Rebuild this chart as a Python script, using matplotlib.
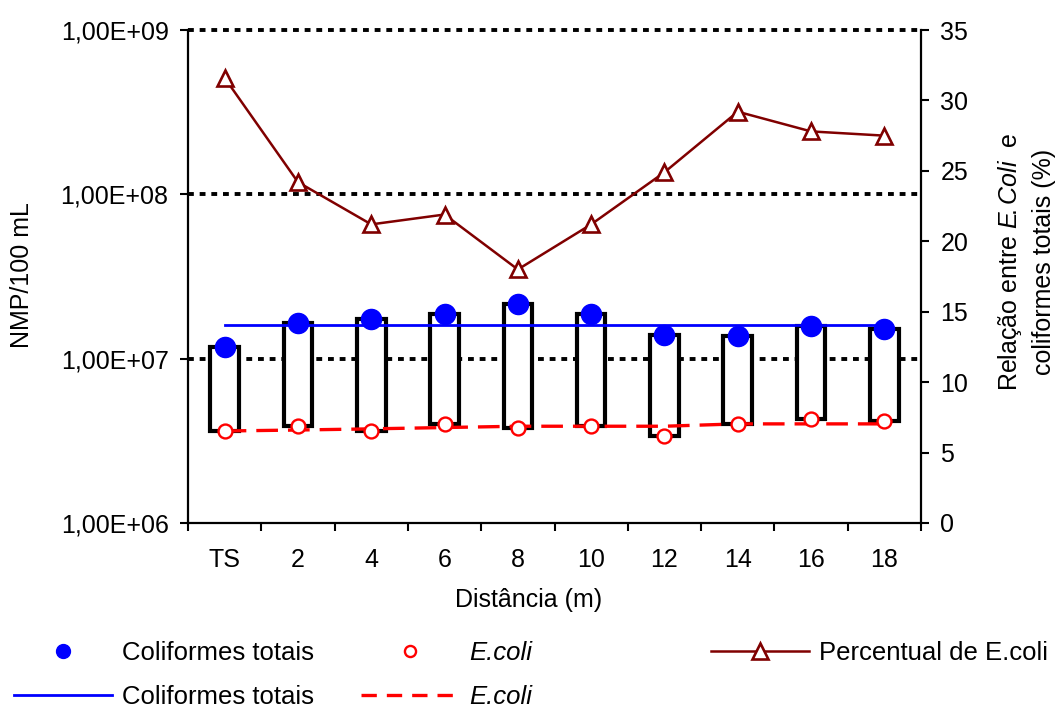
import numpy as np
import matplotlib
matplotlib.use("Agg")
import matplotlib.pyplot as plt
from matplotlib.lines import Line2D
from matplotlib.ticker import NullLocator, FixedLocator

plt.rcParams["font.family"] = ["Liberation Sans", "DejaVu Sans"]
plt.rcParams["mathtext.fontset"] = "custom"
plt.rcParams["mathtext.rm"] = "Liberation Sans"
plt.rcParams["mathtext.it"] = "Liberation Sans:italic"
plt.rcParams["font.size"] = 18

# distance from the septic tank (TS) in metres
distances = ["TS", "2", "4", "6", "8", "10", "12", "14", "16", "18"]

# NMP/100 mL
coliformes_totais = [1.17e7, 1.65e7, 1.74e7, 1.88e7, 2.15e7, 1.88e7, 1.40e7, 1.38e7, 1.57e7, 1.52e7]
e_coli = [3.65e6, 3.92e6, 3.65e6, 4.03e6, 3.79e6, 3.88e6, 3.40e6, 4.03e6, 4.32e6, 4.20e6]

# reference lines
media_totais = 1.61e7
tendencia_e_coli = [3.63e6, 3.68e6, 3.74e6, 3.81e6, 3.88e6, 3.88e6, 3.88e6, 4.01e6, 4.01e6, 4.01e6]

# E.coli / total coliforms (%)
percentual = [31.6, 24.2, 21.2, 21.9, 18.0, 21.2, 24.9, 29.2, 27.8, 27.5]

W, H = 1064, 708
fig = plt.figure(figsize=(W / 100, H / 100), dpi=100)
ax = fig.add_axes([188 / W, 1 - 523 / H, 733 / W, 493 / H])

x = np.arange(len(distances))
tot = np.array(coliformes_totais)
eco = np.array(e_coli)

ax.set_yscale("log")
ax.set_ylim(1e6, 1e9)
ax.set_xlim(-0.5, len(distances) - 0.5)

for lvl in [1e7, 1e8, 1e9]:
    ax.axhline(lvl, color="black", lw=2.8, ls=(0, (1.5, 1.5)), zorder=1, clip_on=False)

# high-low boxes between E.coli and total coliforms
ax.bar(x, tot - eco, bottom=eco, width=0.39, color="white", edgecolor="black",
       linewidth=3.0, zorder=2)

ax.plot([x[0], x[-1]], [media_totais, media_totais], color="#0000ff", lw=2.0, zorder=3)
ax.plot(x, tendencia_e_coli, color="#ff0000", lw=2.4, ls=(0, (6.5, 3)), zorder=3)
ax.plot(x, tot, "o", color="#0000ff", ms=14.5, zorder=4)
ax.plot(x, eco, "o", mfc="white", mec="#ff0000", mew=1.7, ms=10, zorder=4)

ax.set_yticks([1e6, 1e7, 1e8, 1e9])
ax.set_yticklabels(["1,00E+06", "1,00E+07", "1,00E+08", "1,00E+09"])
ax.yaxis.set_minor_locator(NullLocator())
ax.tick_params(axis="y", direction="out", length=6, width=1.5, pad=8)

ax.set_xticks(x)
ax.set_xticklabels(distances)
ax.xaxis.set_minor_locator(FixedLocator(np.arange(-0.5, len(distances), 1.0)))
ax.tick_params(axis="x", which="major", length=0, pad=18)
ax.tick_params(axis="x", which="minor", direction="out", length=6, width=1.5)

for side in ["top", "right"]:
    ax.spines[side].set_visible(False)
for side in ["left", "bottom"]:
    ax.spines[side].set_linewidth(1.6)

ax.set_xlabel("Distância (m)")
ax.xaxis.set_label_coords(0.465, -0.156)
ax.xaxis.label.set_va("center")
ax.text(-0.2265, 0.503, "NMP/100 mL", transform=ax.transAxes, rotation=90,
        ha="center", va="center")

ax2 = ax.twinx()
ax2.set_ylim(0, 35)
ax2.set_yticks(range(0, 36, 5))
ax2.tick_params(axis="y", direction="out", length=6, width=1.5, pad=8)
for side in ["top", "left", "bottom"]:
    ax2.spines[side].set_visible(False)
ax2.spines["right"].set_linewidth(1.6)
ax2.plot(x, percentual, color="#800000", lw=1.8, marker="^", ms=11,
         mfc="white", mec="#800000", mew=1.9, zorder=5)
ax2.text(1.143, 0.53, "Relação entre $\\mathit{E\\!.Coli}$  e\ncoliformes totais (%)",
         transform=ax.transAxes, rotation=90, ha="center", va="center",
         multialignment="center", linespacing=1.45)

# legend columns
leg_kw = dict(frameon=False, borderpad=0, borderaxespad=0, handlelength=3.8,
              handletextpad=0.4, labelspacing=0.78, loc="upper left")
h_tot_pt = Line2D([], [], ls="none", marker="o", color="#0000ff", ms=10)
h_tot_ln = Line2D([], [], color="#0000ff", lw=2.0)
h_eco_pt = Line2D([], [], ls="none", marker="o", mfc="white", mec="#ff0000", mew=1.7, ms=8)
h_eco_ln = Line2D([], [], color="#ff0000", lw=2.4, ls=(0, (4.6, 3.0)))
h_pct = Line2D([], [], color="#800000", lw=1.8, marker="^", ms=11, mfc="white",
               mec="#800000", mew=1.9)

l1 = fig.legend([h_tot_pt, h_tot_ln], ["Coliformes totais", "Coliformes totais"],
                bbox_to_anchor=(14 / W, 1 - 641 / H), prop={"size": 18.5}, **leg_kw)
l2 = fig.legend([h_eco_pt, h_eco_ln], ["E.coli", "E.coli"],
                bbox_to_anchor=(361 / W, 1 - 641 / H), prop={"style": "italic", "size": 18.5},
                **leg_kw)
l3 = fig.legend([h_pct], ["Percentual de E.coli"],
                bbox_to_anchor=(711 / W, 1 - 641 / H), prop={"size": 18.5}, **leg_kw)

fig.savefig("out.png", dpi=100)
